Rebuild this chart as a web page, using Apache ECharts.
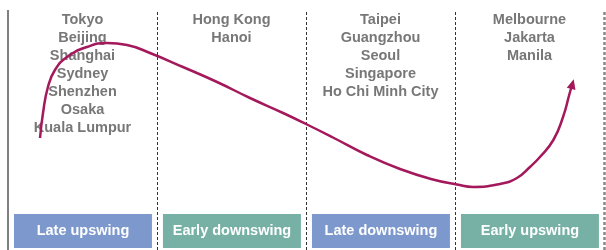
<!DOCTYPE html>
<html><head><meta charset="utf-8">
<script src="https://cdn.jsdelivr.net/npm/echarts@6/dist/echarts.min.js"></script>
<style>html,body{margin:0;padding:0;background:#fff}#c{width:606px;height:250px}</style>
</head><body><div id="c"></div>
<script>
// Phases (x axis: one unit per phase)
var phases = ['Late upswing', 'Early downswing', 'Late downswing', 'Early upswing'];
var phaseColors = ['#7d98cc', '#77b1a5', '#7d98cc', '#77b1a5'];
var cities = [
  ['Tokyo', 'Beijing', 'Shanghai', 'Sydney', 'Shenzhen', 'Osaka', 'Kuala Lumpur'],
  ['Hong Kong', 'Hanoi'],
  ['Taipei', 'Guangzhou', 'Seoul', 'Singapore', 'Ho Chi Minh City'],
  ['Melbourne', 'Jakarta', 'Manila']
];
// Cycle curve (x in phase units, y arbitrary 0-120)
var curveX = [0.215, 0.235, 0.268, 0.315, 0.396, 0.53, 0.664, 0.799, 0.953, 1.174, 1.403, 1.624, 1.846, 2.0, 2.181, 2.409, 2.631, 2.852, 3.013, 3.121, 3.302, 3.416, 3.503, 3.57, 3.66, 3.725, 3.77, 3.788];
var curveY = [56, 68.5, 81.5, 90, 96.5, 101.5, 103.5, 102.5, 98.5, 91.5, 84, 76, 68.5, 63, 56.25, 47.5, 40.5, 35.25, 32.75, 31.5, 33, 36, 41.5, 46.5, 55, 66.5, 78.5, 83];

var FONT = '"Liberation Sans", Arial, Helvetica, sans-serif';
var curveData = curveX.map(function (x, i) {
  var d = { value: [x, curveY[i]] };
  if (i === curveX.length - 1) {
    d.symbol = 'triangle';
    d.symbolSize = [9, 10];
    d.symbolRotate = -15;
  }
  return d;
});

var labelData = cities.map(function (c, i) {
  return { value: [i + 0.5, 119.5], label: { formatter: c.join('\n') } };
});

var areas = phases.map(function (p, i) {
  return [
    { xAxis: i + 0.04, yAxis: 1, name: p, itemStyle: { color: phaseColors[i] } },
    { xAxis: i + 0.966, yAxis: 18 }
  ];
});

var vlines = [
  { xAxis: 0, lineStyle: { type: 'solid', color: '#555', width: 1.5 } },
  { xAxis: 1 }, { xAxis: 2 }, { xAxis: 3 },
  { xAxis: 4, lineStyle: { type: [3, 2], color: '#888', width: 2.5 } }
];

var chart = echarts.init(document.getElementById('c'));
chart.setOption({
  animation: false,
  grid: { left: 8, right: 2, top: 10, bottom: 0 },
  xAxis: { type: 'value', min: 0, max: 4, show: false },
  yAxis: { type: 'value', min: 0, max: 120, show: false },
  series: [
    {
      type: 'line',
      data: curveData,
      smooth: 0.5,
      symbol: 'none',
      showSymbol: true,
      itemStyle: { color: '#a3195b' },
      lineStyle: { color: '#a3195b', width: 2.5 },
      z: 5,
      markLine: {
        silent: true,
        symbol: ['none', 'none'],
        label: { show: false },
        lineStyle: { type: [3, 2], color: '#333', width: 1 },
        data: vlines
      },
      markArea: {
        silent: true,
        label: {
          show: true, position: 'inside', color: '#fff',
          fontFamily: FONT, fontWeight: 'bold', fontSize: 14.5
        },
        data: areas
      }
    },
    {
      type: 'scatter',
      data: labelData,
      symbolSize: 0,
      silent: true,
      label: {
        show: true, position: 'bottom', distance: 0,
        color: '#555', fontFamily: FONT, fontWeight: 'bold',
        fontSize: 14.5, lineHeight: 18, align: 'center'
      },
      z: 4
    }
  ]
});
</script></body></html>
